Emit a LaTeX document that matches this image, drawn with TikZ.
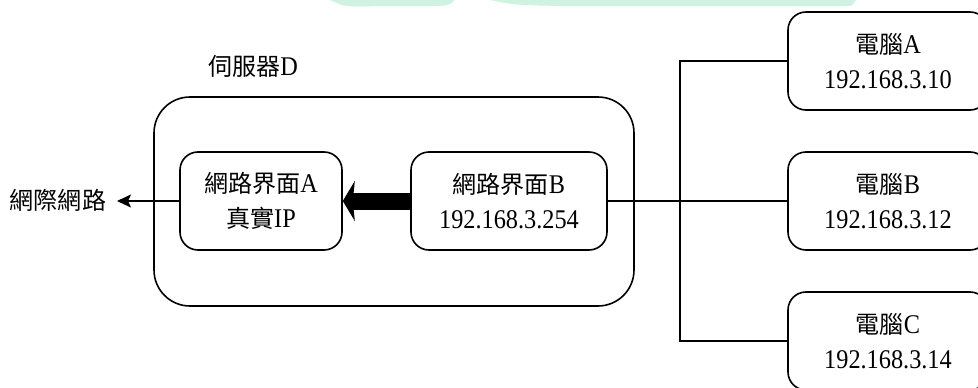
\documentclass[tikz,border=0pt]{standalone}
\usepackage{fontspec}
\setmainfont{Liberation Serif}[FakeStretch=0.9]
\newfontfamily\cjk{Noto Sans CJK TC}[Scale=0.89]
\usetikzlibrary{arrows.meta}
\definecolor{wm}{RGB}{208,242,224}
\newcommand{\zh}[1]{{\cjk #1}}
\begin{document}
\begin{tikzpicture}[x=1pt,y=-1pt,
  every node/.style={font=\fontsize{27}{35}\selectfont, align=center, inner sep=0pt},
  box/.style={draw, line width=1.6pt, rounded corners=18pt, minimum height=98pt},
  outerbox/.style={draw, line width=1.6pt, rounded corners=36pt, minimum width=480pt, minimum height=209pt},
  wire/.style={line width=1.8pt},
  thickarrow/.style={line width=17pt, -{Stealth[length=12pt,width=40pt,inset=2pt]}},
  thinarrow/.style={line width=1.8pt, -{Stealth[length=14pt,width=13pt,inset=3pt]}}
]
\useasboundingbox (0,0) rectangle (978,388);
\clip (0,0) rectangle (978,388);
\fill[white] (0,0) rectangle (978,388);
% faint watermark at the top edge
\fill[wm] (330,0) .. controls (345,7) .. (380,6) -- (430,6) .. controls (448,6) .. (455,0) -- cycle;
\fill[wm] (490,0) .. controls (515,5) .. (560,6) -- (845,6) .. controls (852,6) .. (856,0) -- cycle;

% server
\node[outerbox] (srv) at (394,201.5) {};
\node (srvlabel) at (253,66) {\zh{伺服器}D};
\node[box, minimum width=162pt] (ifA) at (261,201) {\zh{網路界面}A\\\zh{真實}IP};
\node[box, minimum width=196pt] (ifB) at (509,201) {\zh{網路界面}B\\192.168.3.254};

% computers
\node[box, minimum width=200pt] (pcA) at (888,61) {\zh{電腦}A\\192.168.3.10};
\node[box, minimum width=200pt] (pcB) at (888,201) {\zh{電腦}B\\192.168.3.12};
\node[box, minimum width=200pt] (pcC) at (888,341) {\zh{電腦}C\\192.168.3.14};

% internet
\node (inet) at (58,200) {\zh{網際網路}};
\coordinate (inettip) at (117,201);
\coordinate (bus) at (680,201);

\draw[thickarrow] (ifB.west) -- (ifA.east);
\draw[thinarrow] (ifA.west) -- (inettip);
\draw[wire] (ifB.east) -- (pcB.west);
\draw[wire] (pcA.west) -| (bus) |- (pcC.west);
\end{tikzpicture}
\end{document}
